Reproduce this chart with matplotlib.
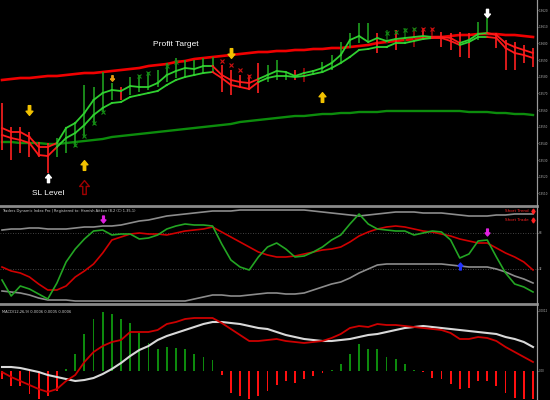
import numpy as np
import matplotlib.pyplot as plt
from matplotlib.path import Path
from matplotlib.lines import Line2D

# ---- main chart (price) ----
highs = [1.95642, 1.95498, 1.95498, 1.95468, 1.95408, 1.95402, 1.95432, 1.95492, 1.95528, 1.95750,
         1.95738, 1.95828, 1.95762, 1.95738, 1.95798, 1.95810, 1.95828, 1.95840, 1.95882, 1.95912,
         1.95900, 1.95900, 1.95912, 1.95918, 1.95870, 1.95840, 1.95810, 1.95810, 1.95882, 1.95870,
         1.95900, 1.95828, 1.95840, 1.95852, 1.95840, 1.95888, 1.95930, 1.96008, 1.96062, 1.96122,
         1.96122, 1.96062, 1.96080, 1.96080, 1.96092, 1.96092, 1.96092, 1.96092, 1.96068, 1.96062,
         1.96068, 1.96062, 1.96128, 1.96152, 1.96062, 1.96020, 1.96008, 1.95990, 1.95972]
lows = [1.95360, 1.95300, 1.95342, 1.95318, 1.95318, 1.95222, 1.95318, 1.95342, 1.95378, 1.95438,
        1.95510, 1.95588, 1.95660, 1.95660, 1.95690, 1.95708, 1.95720, 1.95738, 1.95768, 1.95792,
        1.95798, 1.95810, 1.95822, 1.95828, 1.95708, 1.95690, 1.95732, 1.95720, 1.95702, 1.95768,
        1.95780, 1.95780, 1.95780, 1.95768, 1.95810, 1.95828, 1.95840, 1.95882, 1.95972, 1.96002,
        1.96008, 1.95942, 1.96002, 1.95960, 1.96008, 1.95978, 1.96020, 1.96032, 1.95978, 1.95960,
        1.95918, 1.95912, 1.96020, 1.96050, 1.95972, 1.95840, 1.95840, 1.95882, 1.95858]
band_up = [1.95492, 1.95468, 1.95468, 1.95438, 1.95378, 1.95378, 1.95402, 1.95492, 1.95522, 1.95582,
           1.95660, 1.95702, 1.95720, 1.95714, 1.95744, 1.95738, 1.95738, 1.95762, 1.95810, 1.95834,
           1.95852, 1.95846, 1.95864, 1.95864, 1.95810, 1.95780, 1.95768, 1.95762, 1.95786, 1.95810,
           1.95834, 1.95828, 1.95804, 1.95822, 1.95834, 1.95852, 1.95882, 1.95930, 1.96020, 1.96044,
           1.96008, 1.96032, 1.96014, 1.96026, 1.96032, 1.96038, 1.96044, 1.96038, 1.96038, 1.96032,
           1.96002, 1.96020, 1.96056, 1.96062, 1.96050, 1.96002, 1.95978, 1.95960, 1.95942]
band_lo = [1.95450, 1.95432, 1.95420, 1.95402, 1.95330, 1.95324, 1.95378, 1.95432, 1.95462, 1.95510,
           1.95570, 1.95612, 1.95642, 1.95648, 1.95678, 1.95690, 1.95702, 1.95714, 1.95750, 1.95780,
           1.95798, 1.95810, 1.95822, 1.95828, 1.95792, 1.95750, 1.95738, 1.95726, 1.95768, 1.95792,
           1.95804, 1.95804, 1.95798, 1.95804, 1.95816, 1.95828, 1.95852, 1.95882, 1.95918, 1.95960,
           1.95966, 1.95978, 1.95978, 1.96002, 1.96002, 1.96014, 1.96026, 1.96032, 1.96032, 1.96014,
           1.95990, 1.96008, 1.96038, 1.96038, 1.96032, 1.95972, 1.95942, 1.95930, 1.95912]
ma_slow = [1.95780, 1.95786, 1.95792, 1.95792, 1.95798, 1.95804, 1.95804, 1.95810, 1.95816, 1.95822,
           1.95822, 1.95828, 1.95834, 1.95840, 1.95846, 1.95852, 1.95864, 1.95870, 1.95876, 1.95888,
           1.95894, 1.95906, 1.95912, 1.95918, 1.95924, 1.95930, 1.95936, 1.95942, 1.95948, 1.95948,
           1.95954, 1.95954, 1.95960, 1.95960, 1.95966, 1.95966, 1.95972, 1.95972, 1.95978, 1.95984,
           1.95990, 1.96002, 1.96008, 1.96014, 1.96020, 1.96026, 1.96032, 1.96038, 1.96038, 1.96044,
           1.96050, 1.96050, 1.96056, 1.96056, 1.96056, 1.96050, 1.96050, 1.96044, 1.96038]
ma_long = [1.95408, 1.95408, 1.95402, 1.95402, 1.95402, 1.95396, 1.95396, 1.95402, 1.95408, 1.95414,
           1.95420, 1.95426, 1.95438, 1.95444, 1.95450, 1.95456, 1.95462, 1.95468, 1.95474, 1.95480,
           1.95486, 1.95492, 1.95498, 1.95504, 1.95510, 1.95516, 1.95528, 1.95534, 1.95540, 1.95546,
           1.95552, 1.95558, 1.95564, 1.95564, 1.95570, 1.95576, 1.95576, 1.95582, 1.95582, 1.95588,
           1.95588, 1.95588, 1.95594, 1.95594, 1.95594, 1.95594, 1.95594, 1.95594, 1.95594, 1.95594,
           1.95594, 1.95588, 1.95588, 1.95588, 1.95582, 1.95582, 1.95576, 1.95576, 1.95570]
# 1 = up (green band), 0 = down (red band)
trend = [0, 0, 0, 0, 0, 0, 0, 1, 1, 1, 1, 1, 1, 1, 1, 1, 1, 1, 1, 1, 1, 1, 1, 1,
         0, 0, 0, 0, 0, 1, 1, 1, 1, 1, 1, 1, 1, 1, 1, 1, 1, 1, 1, 1, 1, 1, 1, 1,
         0, 0, 0, 1, 1, 1, 0, 0, 0, 0, 0]
bar_col = "rrrrrrgggggggrggggggggggrrrrrgggrRgggggggrGrGRrRrrrrggrrrrr"

yellow_up_idx = [9, 35]
yellow_up_price = [1.95270, 1.95678]
yellow_dn_idx = [3, 25]
yellow_dn_price = [1.95600, 1.95942]
white_up_idx = [5]
white_up_price = [1.95192]
white_dn_idx = [53]
white_dn_price = [1.96182]
hollow_up_idx = [9]
hollow_up_price = [1.95138]
orange_idx = [12]
orange_price = [1.95792]
xg_idx = [8, 9, 10, 11, 15, 16, 18, 19, 42, 43, 44, 45]
xg_price = [1.95390, 1.95444, 1.95522, 1.95588, 1.95804, 1.95822, 1.95864, 1.95888,
            1.96062, 1.96068, 1.96080, 1.96086]
xr_idx = [24, 25, 26, 27, 46, 47]
xr_price = [1.95894, 1.95870, 1.95840, 1.95804, 1.96086, 1.96086]

# ---- Traders Dynamic Index ----
tdi_green = [21, 5, 15, 12, 7, 2, 18, 39, 52, 62, 70, 71, 66, 67, 67, 62, 63, 66, 72, 75,
             77, 76, 76, 75, 57, 41, 34, 31, 44, 54, 58, 52, 44, 45, 49, 54, 61, 66, 77, 87,
             77, 72, 71, 70, 70, 66, 68, 70, 69, 61, 43, 47, 60, 61, 44, 28, 17, 14, 9]
tdi_red = [34, 30, 28, 24, 17, 11, 11, 15, 24, 30, 37, 48, 61, 64, 67, 68, 67, 67, 66, 68,
           70, 71, 72, 74, 69, 64, 59, 54, 49, 46, 44, 44, 45, 47, 49, 51, 52, 54, 59, 65,
           69, 72, 74, 75, 74, 72, 70, 69, 67, 65, 62, 60, 58, 58, 53, 48, 44, 39, 31]
tdi_upper = [71, 72, 72, 73, 73, 72, 72, 72, 73, 74, 74, 75, 75, 76, 78, 80, 81, 83, 85, 86,
             87, 88, 89, 90, 90, 90, 91, 91, 91, 91, 91, 91, 91, 91, 90, 89, 88, 87, 86, 85,
             86, 87, 88, 89, 89, 89, 88, 88, 88, 87, 86, 85, 85, 85, 86, 86, 87, 87, 87]
tdi_lower = [10, 9, 8, 6, 3, 1, 1, 1, 0, 0, 0, 0, 0, 0, 0, 0, 0, 0, 0, 0,
             0, 2, 4, 6, 6, 5, 5, 6, 7, 8, 8, 7, 7, 8, 11, 14, 17, 19, 23, 28,
             32, 36, 37, 37, 37, 37, 37, 37, 37, 36, 35, 34, 34, 34, 32, 29, 25, 22, 18]
tdi_levels = [68, 32]
magenta_idx = [11, 53]
magenta_val = [82, 69]
blue_idx = [50]
blue_val = [35]

# ---- MACD ----
macd_hist = [-0.00016, -0.00030, -0.00030, -0.00046, -0.00056, -0.00050, -0.00040, 0.00004, 0.00034, 0.00074,
             0.00104, 0.00118, 0.00114, 0.00104, 0.00096, 0.00076, 0.00056, 0.00044, 0.00048, 0.00046,
             0.00044, 0.00034, 0.00028, 0.00022, -0.00008, -0.00044, -0.00050, -0.00056, -0.00050, -0.00040,
             -0.00028, -0.00020, -0.00024, -0.00016, -0.00010, -0.00004, 0.00002, 0.00014, 0.00034, 0.00054,
             0.00044, 0.00044, 0.00028, 0.00024, 0.00014, 0.00002, -0.00002, -0.00014, -0.00016, -0.00026,
             -0.00036, -0.00034, -0.00020, -0.00020, -0.00030, -0.00044, -0.00054, -0.00056, -0.00056]
macd_red = [-0.00002, -0.00012, -0.00020, -0.00028, -0.00036, -0.00042, -0.00036, -0.00020, -0.00008, 0.00018,
            0.00038, 0.00050, 0.00058, 0.00062, 0.00078, 0.00078, 0.00078, 0.00082, 0.00094, 0.00098,
            0.00104, 0.00106, 0.00106, 0.00106, 0.00096, 0.00084, 0.00072, 0.00060, 0.00060, 0.00062,
            0.00064, 0.00060, 0.00058, 0.00056, 0.00058, 0.00060, 0.00066, 0.00074, 0.00086, 0.00090,
            0.00088, 0.00094, 0.00092, 0.00092, 0.00090, 0.00088, 0.00086, 0.00084, 0.00082, 0.00076,
            0.00064, 0.00064, 0.00068, 0.00066, 0.00060, 0.00048, 0.00038, 0.00028, 0.00018]
macd_white = [0.00008, 0.00008, 0.00006, 0.00002, -0.00002, -0.00008, -0.00012, -0.00016, -0.00020, -0.00018,
              -0.00014, -0.00006, 0.00004, 0.00016, 0.00030, 0.00042, 0.00050, 0.00062, 0.00070, 0.00076,
              0.00082, 0.00088, 0.00094, 0.00098, 0.00098, 0.00096, 0.00094, 0.00090, 0.00086, 0.00084,
              0.00078, 0.00072, 0.00068, 0.00064, 0.00062, 0.00060, 0.00060, 0.00062, 0.00064, 0.00068,
              0.00072, 0.00074, 0.00078, 0.00082, 0.00086, 0.00088, 0.00090, 0.00088, 0.00086, 0.00084,
              0.00082, 0.00080, 0.00078, 0.00076, 0.00074, 0.00068, 0.00064, 0.00058, 0.00048]

x = np.arange(len(highs))

up_arrow = Path([(0, 1), (-0.7, 0.15), (-0.25, 0.15), (-0.25, -1), (0.25, -1), (0.25, 0.15), (0.7, 0.15), (0, 1)],
                [Path.MOVETO] + [Path.LINETO] * 6 + [Path.CLOSEPOLY])
down_arrow = Path(up_arrow.vertices * [1, -1], up_arrow.codes)

fig = plt.figure(figsize=(5.5, 4), dpi=100, facecolor='black')
ax1 = fig.add_axes([0, 0.49, 0.9764, 0.51])
ax2 = fig.add_axes([0, 0.245, 0.9764, 0.2375])
ax3 = fig.add_axes([0, 0, 0.9764, 0.2375])

for ax in (ax1, ax2, ax3):
    ax.set_facecolor('black')
    ax.set_xlim(-0.218, 58.437)
    ax.set_xticks([])
    ax.yaxis.tick_right()
    ax.tick_params(axis='y', colors='#b0b0b0', labelsize=2.0, length=1.0, width=0.5, pad=0.3)
    for s in ['top', 'bottom', 'left']:
        ax.spines[s].set_visible(False)
    ax.spines['right'].set_color('#9a9a9a')
    ax.spines['right'].set_linewidth(0.8)

# main panel
ax1.set_ylim(1.95036, 1.96260)
ticks = np.arange(1.9510, 1.96205, 0.001)
ax1.set_yticks(ticks)
ax1.set_yticklabels(['%.4f' % t for t in ticks])
ax1.plot(x, ma_slow, color='#f00000', lw=1.9, zorder=2)
ax1.plot(x, ma_long, color='#0c8c0c', lw=1.7, zorder=2)
colmap = {'g': '#1f9f1f', 'G': '#0e5e0e', 'r': '#ff2020', 'R': '#9a0c0c'}
ax1.vlines(x, lows, highs, colors=[colmap[c] for c in bar_col], lw=1.2, zorder=3)
for i in range(len(x) - 1):
    c = '#30d030' if trend[i + 1] else '#ff1a1a'
    ax1.plot(x[i:i + 2], band_up[i:i + 2], color=c, lw=1.3, zorder=4)
    ax1.plot(x[i:i + 2], band_lo[i:i + 2], color=c, lw=1.3, zorder=4)
ax1.plot(xg_idx, xg_price, ls='none', marker='x', ms=2.2, mew=0.8, color='#138a13', zorder=3)
ax1.plot(xr_idx, xr_price, ls='none', marker='x', ms=2.2, mew=0.8, color='#d01010', zorder=3)
ax1.plot(yellow_up_idx, yellow_up_price, ls='none', marker=up_arrow, ms=7, color='#f2c200', zorder=5)
ax1.plot(yellow_dn_idx, yellow_dn_price, ls='none', marker=down_arrow, ms=7, color='#f2c200', zorder=5)
ax1.plot(white_up_idx, white_up_price, ls='none', marker=up_arrow, ms=6, color='white', zorder=5)
ax1.plot(white_dn_idx, white_dn_price, ls='none', marker=down_arrow, ms=6, color='white', zorder=5)
ax1.plot(hollow_up_idx, hollow_up_price, ls='none', marker=up_arrow, ms=10, mfc='none',
         mec='#a00000', mew=1, zorder=5)
ax1.plot(orange_idx, orange_price, ls='none', marker=down_arrow, ms=4, color='#e89a10', zorder=5)
ax1.text(19, 1.95990, 'Profit Target', color='white', fontsize=6, ha='center', va='center',
         family=['Liberation Sans Narrow', 'Liberation Sans'])
ax1.text(5, 1.95102, 'SL Level', color='white', fontsize=6, ha='center', va='center',
         family=['Liberation Sans Narrow', 'Liberation Sans'])

# TDI panel
ax2.set_ylim(-1, 94)
ax2.set_yticks(tdi_levels)
ax2.set_yticklabels([str(v) for v in tdi_levels])
for lv in tdi_levels:
    ax2.axhline(lv, color='#5a5a5a', lw=0.6, ls=(0, (1, 2)), zorder=1)
ax2.plot(x, tdi_upper, color='#8c8c8c', lw=1.2, zorder=2)
ax2.plot(x, tdi_lower, color='#8c8c8c', lw=1.2, zorder=2)
ax2.plot(x, tdi_red, color='#d00000', lw=1.2, zorder=3)
ax2.plot(x, tdi_green, color='#23a523', lw=1.2, zorder=4)
ax2.plot(magenta_idx, magenta_val, ls='none', marker=down_arrow, ms=5, color='#e020e0', zorder=5)
ax2.plot(blue_idx, blue_val, ls='none', marker=up_arrow, ms=5, color='#2233ff', zorder=5)
ax2.text(0.004, 0.955, 'Traders Dynamic Index Pro | Registered to: Hamish Aitken (8.2 (C) 1.35.1)',
         transform=ax2.transAxes, color='#d0d0d0', fontsize=2.6, va='center')
ax2.text(0.985, 0.958, 'Short Trend', transform=ax2.transAxes, color='#ff2020', fontsize=3,
         ha='right', va='center')
ax2.text(0.985, 0.863, 'Short Trade', transform=ax2.transAxes, color='#ff2020', fontsize=3,
         ha='right', va='center')
ax2.plot([0.992, 0.992], [0.958, 0.863], ls='none', marker='d', ms=2.5, color='#ff2020',
         transform=ax2.transAxes)

# MACD panel
ax3.set_ylim(-0.00058, 0.00132)
ax3.set_yticks([0.0, 0.0012])
ax3.set_yticklabels(['0.00', '0.0012'])
hist_cols = ['#0d8a0d' if h >= 0 else '#ff1010' for h in macd_hist]
ax3.bar(x, macd_hist, width=0.2, color=hist_cols, zorder=2)
ax3.plot(x, macd_white, color='#d8d8d8', lw=1.5, zorder=3)
ax3.plot(x, macd_red, color='#cc0000', lw=1.3, zorder=4)
ax3.text(0.004, 0.926, 'MACD(12,26,9) 0.0006 0.0005 0.0006', transform=ax3.transAxes,
         color='#d0d0d0', fontsize=2.6, va='center')

# panel separators and right scale line
for yy in [0.48625, 0.24125]:
    fig.add_artist(Line2D([0, 0.9764], [yy, yy], transform=fig.transFigure, color='#8a8a8a', lw=2))
fig.add_artist(Line2D([0.9764, 0.9764], [0, 1], transform=fig.transFigure, color='#9a9a9a', lw=0.8))

plt.savefig('out.png', dpi=100, facecolor='black')
